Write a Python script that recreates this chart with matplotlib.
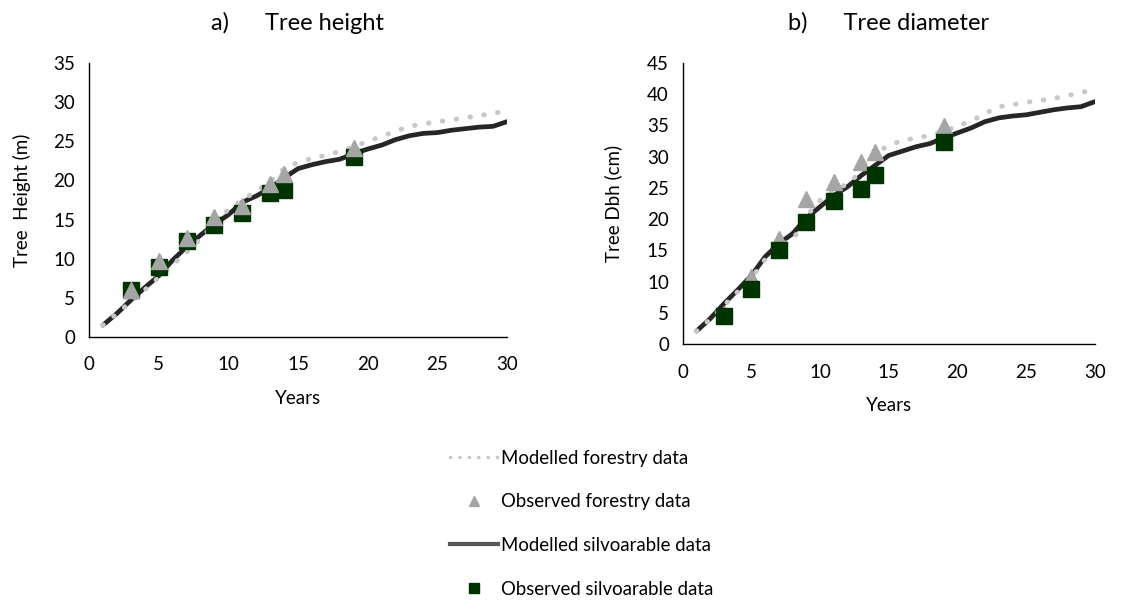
import matplotlib.pyplot as plt
from matplotlib.lines import Line2D

plt.rcParams['font.family'] = ['Lato', 'DejaVu Sans']

years = list(range(1, 31))
obs_years = [3, 5, 7, 9, 11, 13, 14, 19]

# a) tree height (m)
height_mod_forestry = [1.5, 3.0, 4.5, 6.0, 7.6, 9.2, 10.8, 12.5, 14.5, 16.3,
                       17.5, 18.6, 19.8, 21.5, 22.3, 22.8, 23.2, 23.7, 24.3, 25.0,
                       25.6, 26.3, 26.9, 27.2, 27.5, 27.7, 28.0, 28.3, 28.5, 29.0]
height_mod_silvo = [1.5, 3.0, 4.7, 6.3, 7.8, 9.8, 11.5, 13.0, 14.4, 15.6,
                    17.2, 18.0, 19.0, 20.3, 21.5, 22.0, 22.4, 22.7, 23.4, 24.0,
                    24.5, 25.2, 25.7, 26.0, 26.1, 26.4, 26.6, 26.8, 26.9, 27.5]
height_obs_forestry = [6.0, 9.7, 12.7, 15.3, 16.7, 19.5, 20.8, 24.1]
height_obs_silvo = [6.0, 9.0, 12.2, 14.3, 15.8, 18.4, 18.8, 23.0]

# b) tree diameter (cm)
dbh_mod_forestry = [2.1, 4.0, 6.2, 8.4, 10.6, 13.6, 15.8, 16.6, 20.5, 23.0,
                    24.5, 25.7, 27.6, 30.5, 31.8, 32.6, 33.0, 33.4, 34.1, 34.9,
                    35.7, 36.9, 38.0, 38.3, 38.7, 39.0, 39.3, 39.8, 40.2, 40.9]
dbh_mod_silvo = [2.1, 4.1, 6.5, 8.7, 11.0, 14.0, 16.1, 17.7, 20.2, 22.0,
                 23.8, 25.2, 27.0, 28.6, 30.2, 30.9, 31.6, 32.1, 33.0, 33.8,
                 34.6, 35.6, 36.2, 36.5, 36.7, 37.1, 37.5, 37.8, 38.0, 38.8]
dbh_obs_forestry = [4.8, 10.7, 16.9, 23.2, 26.0, 29.2, 30.8, 34.9]
dbh_obs_silvo = [4.5, 8.9, 15.0, 19.5, 22.9, 24.9, 27.0, 32.4]

c_dots = '#c8c8c8'
c_line = '#262626'
c_tri = '#a5a5a5'
c_sq = '#003300'
fs = 13.5


def draw_panel(ax, mod_f, mod_s, obs_f, obs_s, squares_on_top):
    ax.plot(years, mod_s, color=c_line, lw=3.4, solid_capstyle='round', zorder=2)
    ax.plot(years, mod_f, color=c_dots, lw=3.6, linestyle=(0, (0.1, 2.7)),
            dash_capstyle='round', zorder=3)
    sq_z, tri_z = (5, 4) if squares_on_top else (4, 5)
    ax.plot(obs_years, obs_s, 's', color=c_sq, ms=11.5, lw=0, zorder=sq_z)
    ax.plot(obs_years, obs_f, '^', color=c_tri, ms=12, lw=0, zorder=tri_z)
    ax.set_xlim(0, 30)
    ax.set_xticks(range(0, 31, 5))
    for s in ['top', 'right']:
        ax.spines[s].set_visible(False)
    for s in ['left', 'bottom']:
        ax.spines[s].set_color('#000000')
        ax.spines[s].set_linewidth(1.0)
    ax.tick_params(length=0, labelsize=fs, colors='#000000')
    ax.tick_params(axis='x', pad=14)
    ax.tick_params(axis='y', pad=10)
    ax.set_xlabel('Years', fontsize=fs, labelpad=12)


fig = plt.figure(figsize=(11.38, 6.05), dpi=100)
ax1 = fig.add_axes([0.0782, 0.443, 0.3673, 0.453])
ax2 = fig.add_axes([0.600, 0.431, 0.362, 0.465])

draw_panel(ax1, height_mod_forestry, height_mod_silvo, height_obs_forestry,
           height_obs_silvo, squares_on_top=False)
ax1.set_ylim(0, 35)
ax1.set_yticks(range(0, 36, 5))
ax1.set_ylabel('Tree  Height (m)', fontsize=fs, labelpad=16)
ax1.set_title('a)      Tree height', fontsize=17, pad=24)

draw_panel(ax2, dbh_mod_forestry, dbh_mod_silvo, dbh_obs_forestry,
           dbh_obs_silvo, squares_on_top=True)
ax2.set_ylim(0, 45)
ax2.set_yticks(range(0, 46, 5))
ax2.set_ylabel('Tree Dbh (cm)', fontsize=fs, labelpad=18)
ax2.set_title('b)      Tree diameter', fontsize=17, pad=24)

handles = [
    Line2D([], [], color=c_dots, lw=2.5, linestyle=(0, (0.1, 2.6)), dash_capstyle='round'),
    Line2D([], [], color=c_tri, marker='^', ms=7, lw=0),
    Line2D([], [], color='#595959', lw=3),
    Line2D([], [], color=c_sq, marker='s', ms=7, lw=0),
]
labels = ['Modelled forestry data', 'Observed forestry data',
          'Modelled silvoarable data', 'Observed silvoarable data']
fig.legend(handles, labels, loc='upper left', bbox_to_anchor=(0.3875, 0.272),
           frameon=False, fontsize=13.4, labelspacing=1.43, handlelength=2.55,
           handletextpad=0.2, borderpad=0)

fig.savefig('out.png', dpi=100)
plt.close(fig)
